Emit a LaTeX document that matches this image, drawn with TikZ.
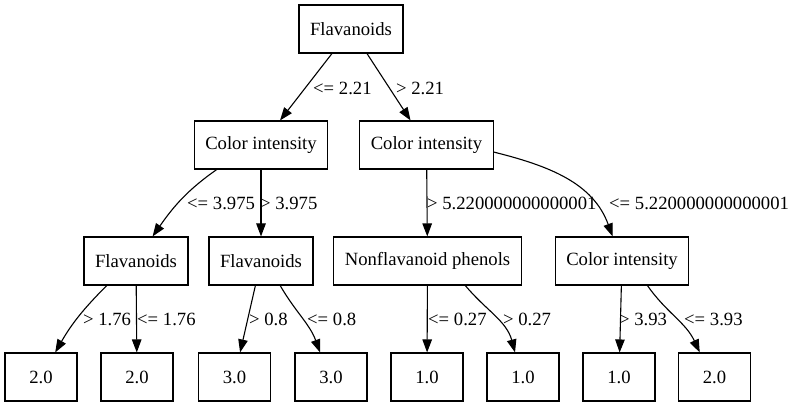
\documentclass[tikz,border=0pt]{standalone}
\usepackage{fontspec}
\setmainfont{Liberation Serif}
\usetikzlibrary{arrows.meta}
\begin{document}
\begin{tikzpicture}[x=1pt,y=1pt,
        every node/.style={font=\fontsize{18.67}{22}\selectfont},
        box/.style={draw,line width=1.1pt,minimum height=48pt,minimum width=72pt,inner xsep=11pt},
        edge/.style={line width=1.1pt,-{Triangle[length=13pt,width=9.5pt]}},
        cond/.style={anchor=west,inner sep=0pt}]
    \useasboundingbox (0,0) rectangle (791,407);
    % split nodes
    \node[box] (root)  at (351,378)   {Flavanoids};
    \node[box] (ciL)   at (261,262)   {Color intensity};
    \node[box] (ciR)   at (426.5,262) {Color intensity};
    \node[box] (flA)   at (136,146)   {Flavanoids};
    \node[box] (flB)   at (261,146)   {Flavanoids};
    \node[box] (nonfl) at (427.5,146) {Nonflavanoid phenols};
    \node[box] (ciC)   at (622,146)   {Color intensity};
    % leaves
    \node[box] (leafA) at (41,30)    {2.0};
    \node[box] (leafB) at (137,30)   {2.0};
    \node[box] (leafC) at (234.5,30) {3.0};
    \node[box] (leafD) at (331,30)   {3.0};
    \node[box] (leafE) at (427,30)   {1.0};
    \node[box] (leafF) at (523,30)   {1.0};
    \node[box] (leafG) at (619,30)   {1.0};
    \node[box] (leafH) at (714.5,30) {2.0};
    % connectors
    \draw[edge] (root) -- (ciL);
    \draw[edge] (root) -- (ciR);
    \draw[edge] (ciL.-151) to[out=-145,in=55] (flA.56);
    \draw[edge] (ciL) -- (flB);
    \draw[edge] (ciR) -- (nonfl);
    \draw[edge] (ciR.-6) to[out=-14,in=110] (ciC.111);
    \draw[edge] (flA.-140) to[out=-135,in=60] (leafA.60);
    \draw[edge] (flA) -- (leafB);
    \draw[edge] (flB) -- (leafC);
    \draw[edge] (flB.-52) to[out=-60,in=110] (leafD.114);
    \draw[edge] (nonfl) -- (leafE);
    \draw[edge] (nonfl.-33) to[out=-50,in=105] (leafF.108);
    \draw[edge] (ciC) -- (leafG);
    \draw[edge] (ciC.-44) to[out=-55,in=115] (leafH.121);
    % conditions
    \node[cond] (c1)  at (313,319) {<= 2.21};
    \node[cond] (c2)  at (396,319) {> 2.21};
    \node[cond] (c3)  at (187,204) {<= 3.975};
    \node[cond] (c4)  at (260,204) {> 3.975};
    \node[cond] (c5)  at (427,204) {> 5.220000000000001};
    \node[cond] (c6)  at (609,204) {<= 5.220000000000001};
    \node[cond] (c7)  at (83,88)   {> 1.76};
    \node[cond] (c8)  at (137,88)  {<= 1.76};
    \node[cond] (c9)  at (249,88)  {> 0.8};
    \node[cond] (c10) at (307,88)  {<= 0.8};
    \node[cond] (c11) at (428,88)  {<= 0.27};
    \node[cond] (c12) at (503,88)  {> 0.27};
    \node[cond] (c13) at (619,88)  {> 3.93};
    \node[cond] (c14) at (684,88)  {<= 3.93};
\end{tikzpicture}
\end{document}
